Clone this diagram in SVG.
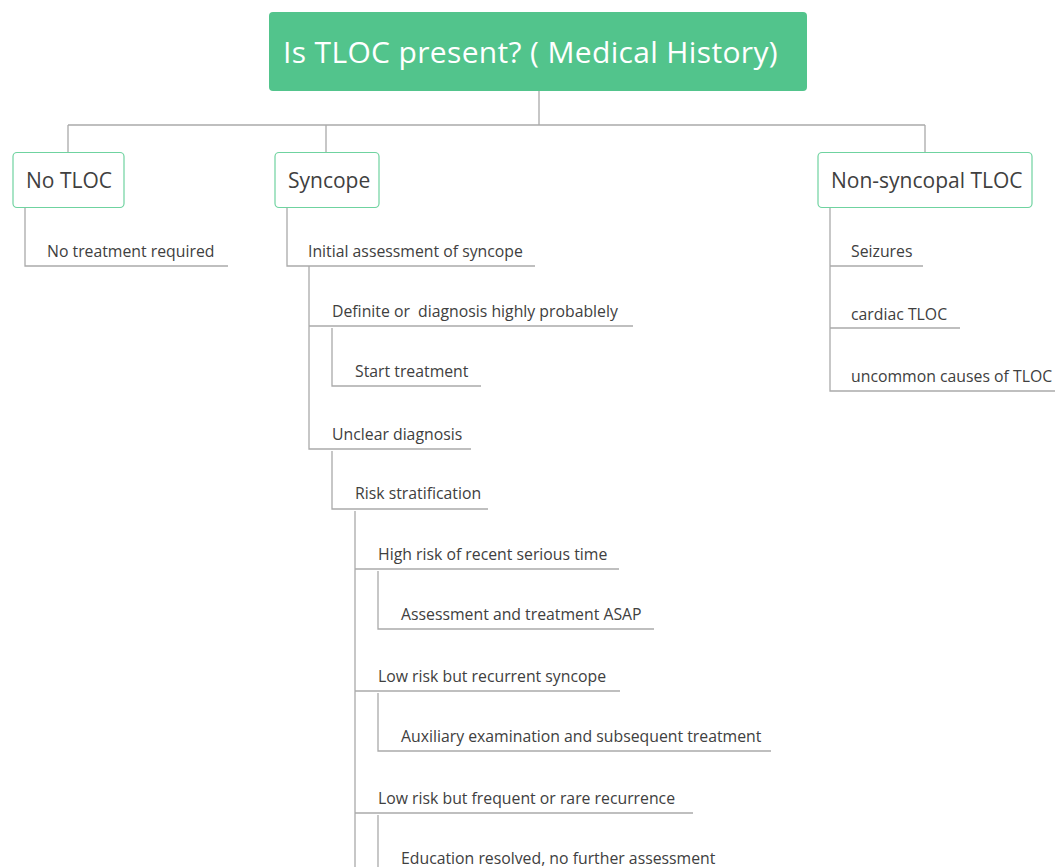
<svg xmlns="http://www.w3.org/2000/svg" width="1055" height="867" viewBox="0 0 1055 867">
<style>
.bg{fill:#ffffff}
.root{fill:#52c48c}
.rt{font-family:"Open Sans","Noto Sans",sans-serif;font-size:30px;letter-spacing:0.35px;fill:#ffffff}
.box{fill:#ffffff;stroke:#6fd3a0;stroke-width:1.2}
.bt{font-family:"Open Sans","Noto Sans",sans-serif;font-size:21px;fill:#404040}
.lt{font-family:"Open Sans","Noto Sans",sans-serif;font-size:15.8px;fill:#404040;white-space:pre}
.ln{fill:none;stroke:#aaaaaa;stroke-width:1.3}
</style>
<rect class="bg" x="0" y="0" width="1055" height="867"/>
<g id="connectors">
<path class="ln" d="M539 91V125M68 125H925M68 125V152M326 125V152M925 125V152"/>
<path class="ln" d="M25 208V266H228"/>
<path class="ln" d="M287 208V266H535"/>
<path class="ln" d="M309 266V449H471M309 326H633"/>
<path class="ln" d="M332 328V386H481"/>
<path class="ln" d="M332 451V509H488"/>
<path class="ln" d="M355 511V867M355 569H619M355 691H620M355 813H693"/>
<path class="ln" d="M378 571V629H654"/>
<path class="ln" d="M378 693V751H771"/>
<path class="ln" d="M378 815V867"/>
<path class="ln" d="M830 208V391H1055M830 266H923M830 328H960"/>
</g>
<g id="root"><rect class="root" x="269" y="12" width="538" height="79" rx="4"/><text class="rt" x="283" y="63">Is TLOC present? ( Medical History)</text></g>
<g id="no-tloc"><rect class="box" x="13" y="152.5" width="111" height="55" rx="4"/><text class="bt" x="26" y="188">No TLOC</text></g>
<g id="syncope"><rect class="box" x="275" y="152.5" width="104" height="55" rx="4"/><text class="bt" x="288" y="188">Syncope</text></g>
<g id="non-syncopal"><rect class="box" x="818" y="152.5" width="214" height="55" rx="4"/><text class="bt" x="831" y="188">Non-syncopal TLOC</text></g>
<g id="no-treatment"><text class="lt" x="47" y="257">No treatment required</text></g>
<g id="initial"><text class="lt" x="308" y="257">Initial assessment of syncope</text></g>
<g id="definite"><text class="lt" x="332" y="317" xml:space="preserve">Definite or  diagnosis highly probablely</text></g>
<g id="start"><text class="lt" x="355" y="377">Start treatment</text></g>
<g id="unclear"><text class="lt" x="332" y="440">Unclear diagnosis</text></g>
<g id="risk"><text class="lt" x="355" y="499">Risk stratification</text></g>
<g id="high"><text class="lt" x="378" y="560">High risk of recent serious time</text></g>
<g id="asap"><text class="lt" x="401" y="620">Assessment and treatment ASAP</text></g>
<g id="low-rec"><text class="lt" x="378" y="682">Low risk but recurrent syncope</text></g>
<g id="aux"><text class="lt" x="401" y="742">Auxiliary examination and subsequent treatment</text></g>
<g id="low-freq"><text class="lt" x="378" y="804">Low risk but frequent or rare recurrence</text></g>
<g id="edu"><text class="lt" x="401" y="864">Education resolved, no further assessment</text></g>
<g id="seizures"><text class="lt" x="851" y="257">Seizures</text></g>
<g id="cardiac"><text class="lt" x="851" y="320">cardiac TLOC</text></g>
<g id="uncommon"><text class="lt" x="851" y="382">uncommon causes of TLOC</text></g>
</svg>
